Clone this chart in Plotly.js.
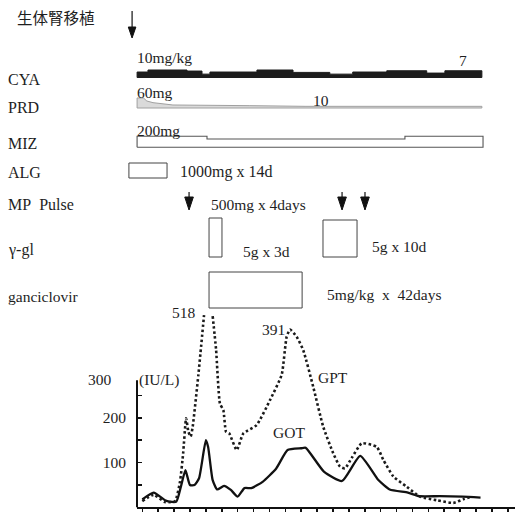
<!DOCTYPE html>
<html><head><meta charset="utf-8">
<script src="https://cdn.plot.ly/plotly-3.0.1.min.js"></script>
<style>html,body{margin:0;padding:0;background:#fff}</style>
</head><body><div id="chart" style="width:515px;height:512px"></div>
<script>
// ---------- data (days after transplantation) ----------
const gotDays   = [0, 5, 10, 12, 15, 17, 19, 21, 23, 25, 28, 29, 31, 33, 36, 39, 42, 45, 48, 53, 59, 64, 70, 72, 80, 88, 96, 104, 109, 117, 122, 131, 141, 149];
const gotValues = [18, 33, 16, 13, 13, 46, 83, 50, 50, 65, 150, 135, 61, 40, 48, 39, 24, 43, 43, 57, 87, 128, 132, 133, 80, 59, 115, 61, 40, 33, 25, 25, 24, 22];
const gptDays   = [0, 5, 10, 14.4, 16.6, 18, 19.3, 20.3, 21.3, 22.2, 24.7, 27.2, 29, 31, 32.5, 34.2, 35.7, 36.9, 38.3, 41.6, 44.5, 50.4, 56.3, 61.4, 63.6, 65.1, 68, 70.9, 75.3, 79.7, 84.1, 87.1, 89.3, 92.2, 96.7, 103.3, 106.2, 110.6, 116.5, 122.3, 129.7, 137, 141.4, 145.1];
const gptValues = [14, 28, 12, 14, 57, 121, 199, 169, 158, 180, 296, 429, null, 427, 352, 232, 217, 169, 165, 128, 165, 184, 240, 296, 381, 397, 381, 351, 269, 180, 121, 91, 87, 110, 143, 135, 106, 69, 46, 24, 16, 10, 18, 24];

const cyaDays = [-2.3, 2.5, 19.7, 26.3, 29.8, 50.5, 66.4, 82.6, 92.7, 107.7, 125.3, 133.3, 149.6]; // segment boundaries
const cyaDose = [7.3, 10, 8.6, 4.5, 7.3, 10, 6.8, 4.5, 7.3, 9, 5.9, 9];                         // mg/kg
const prdDays = [-2.3, 0.5, 2.0, 4.7, 13.5, 47.4, 71.7, 149.6];
const prdDose = [60, 60, 42, 32, 18, 14, 10, 10];                                               // mg
const mizDays = [-2.3, 28.5, 115.7, 150.1];
const mizDose = [200, 150, 200];                                                                // mg

const transplantDay = -4.5;
const algPeriod = [-5.9, 10.9];
const mpPulseDays = [20.6, 88, 98.1];
const gglPeriods = [[29.4, 35.1], [79.6, 94.6]];
const gcvPeriod = [29.4, 70.4];

// ---------- layout constants ----------
const W = 515, H = 512;
const DAY0_PX = 142.3, PX_PER_DAY = 2.27;
const AXIS_LEFT_PX = 137;
const Y0_PX = 507.4, PX_PER_UNIT = 0.448, LAB_TOP_PX = 300;
const FONT = 'Liberation Serif, Times New Roman, serif';
const TXT = '#1e1e1e';
const FS = 16;

const pxToDay = p => (p - DAY0_PX) / PX_PER_DAY;

// timeline rows (y2 axis = pixel rows)
const CYA_BASE = 77.5, CYA_SCALE = 0.75;
const PRD_BASE = 108, PRD_SCALE = 0.167;
const MIZ_BASE = 147.3, MIZ_SCALE = 0.055;

function stepPolygon(days, dose, base, scale) {
  const x = [days[0]], y = [base];
  for (let i = 0; i < dose.length; i++) {
    x.push(days[i], days[i + 1]);
    y.push(base - dose[i] * scale, base - dose[i] * scale);
  }
  x.push(days[days.length - 1], days[0]);
  y.push(base, base);
  return {x, y};
}
function linePolygon(days, dose, base, scale) {
  const x = [days[0]], y = [base];
  for (let i = 0; i < dose.length; i++) { x.push(days[i]); y.push(base - dose[i] * scale); }
  x.push(days[days.length - 1], days[0]);
  y.push(base, base);
  return {x, y};
}

const cya = stepPolygon(cyaDays, cyaDose, CYA_BASE, CYA_SCALE);
const prd = linePolygon(prdDays, prdDose, PRD_BASE, PRD_SCALE);
const miz = stepPolygon(mizDays, mizDose, MIZ_BASE, MIZ_SCALE);

const traces = [
  {x: cya.x, y: cya.y, xaxis: 'x', yaxis: 'y2', type: 'scatter', mode: 'lines', fill: 'toself',
   fillcolor: '#1c1c1c', line: {color: '#1c1c1c', width: 1}, hoverinfo: 'skip', showlegend: false},
  {x: prd.x, y: prd.y, xaxis: 'x', yaxis: 'y2', type: 'scatter', mode: 'lines', fill: 'toself',
   fillcolor: '#dadada', line: {color: '#a0a0a0', width: 1}, hoverinfo: 'skip', showlegend: false},
  {x: miz.x, y: miz.y, xaxis: 'x', yaxis: 'y2', type: 'scatter', mode: 'lines',
   line: {color: '#555', width: 1.1}, hoverinfo: 'skip', showlegend: false},
  {x: gotDays, y: gotValues, xaxis: 'x2', yaxis: 'y', type: 'scatter', mode: 'lines', name: 'GOT',
   line: {color: '#111', width: 2.3, shape: 'spline', smoothing: 0.5}, showlegend: false},
  {x: gptDays, y: gptValues, xaxis: 'x2', yaxis: 'y', type: 'scatter', mode: 'lines', name: 'GPT',
   line: {color: '#1a1a1a', width: 2.6, dash: '2.5px,2.5px', shape: 'spline', smoothing: 0.5},
   connectgaps: false, showlegend: false}
];

const box = (x0, x1, y0, y1) => ({type: 'rect', xref: 'x', yref: 'y2', x0, x1, y0, y1,
  line: {color: '#444', width: 1}, fillcolor: 'rgba(0,0,0,0)'});

// down arrow (stem + filled head) in timeline coordinates: x in days, y in row pixels
function downArrow(day, yTop, yHeadTop, yTip, halfWidthPx) {
  const hw = halfWidthPx / PX_PER_DAY;
  return [
    {type: 'line', xref: 'x', yref: 'y2', x0: day, x1: day, y0: yTop, y1: yHeadTop + 1,
     line: {color: '#111', width: 1.2}},
    {type: 'path', xref: 'x', yref: 'y2',
     path: `M ${day - hw},${yHeadTop} L ${day + hw},${yHeadTop} L ${day},${yTip} Z`,
     fillcolor: '#111', line: {color: '#111', width: 1}}
  ];
}

const shapes = [
  box(algPeriod[0], algPeriod[1], 163, 178),
  box(gglPeriods[0][0], gglPeriods[0][1], 218, 257),
  box(gglPeriods[1][0], gglPeriods[1][1], 220, 257),
  box(gcvPeriod[0], gcvPeriod[1], 272, 308),
  {type: 'line', xref: 'x2 domain', x0: 0, x1: 0, yref: 'y', y0: 0, y1: 284,
   line: {color: '#111', width: 2}},
  ...downArrow(transplantDay, 11, 27, 38, 3.8)
];
mpPulseDays.forEach(d => shapes.push(...downArrow(d, 192, 197, 210, 4.3)));

const px = p => p / W, py = p => 1 - p / H;
function txt(text, x, y, size, anchor) {
  return {text, x: px(x), y: py(y), xref: 'paper', yref: 'paper', xanchor: anchor || 'left',
    yanchor: 'middle', showarrow: false, font: {family: FONT, size: size || FS, color: TXT}};
}

const annotations = [
  {text: '生体腎移植', x: px(15), y: py(17), xref: 'paper', yref: 'paper', xanchor: 'left', yanchor: 'middle',
   showarrow: false, font: {family: 'Noto Sans CJK JP', size: 15.5, color: TXT}},
  txt('CYA', 6, 79), txt('PRD', 6, 107), txt('MIZ', 6, 143), txt('ALG', 6, 172),
  txt('MP\u00a0\u00a0Pulse', 6, 204), txt('γ-gl', 6, 250), txt('ganciclovir', 6, 296, 15.5),
  txt('10mg/kg', 135, 57, 15.5), txt('7', 457, 60, 15.5), txt('60mg', 135, 92, 15.5), txt('10', 311, 100, 15.5),
  txt('200mg', 135, 130, 15.5), txt('1000mg x 14d', 178, 172), txt('500mg x 4days', 209, 204, 15.5),
  txt('5g x 3d', 241, 251, 15.5), txt('5g x 10d', 370, 246, 15.5), txt('5mg/kg\u00a0\u00a0x\u00a0\u00a042days', 325, 294, 15.5),
  txt('518', 170, 312, 15.5), txt('391', 260, 329, 15.5), txt('GPT', 316, 377, 15.5), txt('GOT', 271, 432, 15.5),
  txt('300', 86, 379, 15.5), txt('(IU/L)', 137, 380, 15.5)
];

const layout = {
  width: W, height: H, margin: {l: 0, r: 0, t: 0, b: 0},
  paper_bgcolor: '#fff', plot_bgcolor: 'rgba(0,0,0,0)',
  showlegend: false,
  xaxis: {domain: [0, 1], range: [pxToDay(0), pxToDay(W)], visible: false, anchor: 'y2', fixedrange: true},
  yaxis2: {domain: [0, 1], range: [H, 0], visible: false, anchor: 'x', fixedrange: true},
  xaxis2: {domain: [AXIS_LEFT_PX / W, 1], range: [pxToDay(AXIS_LEFT_PX), pxToDay(W)], anchor: 'y',
    showline: true, linecolor: '#111', linewidth: 2, ticks: 'outside', ticklen: 7, tickwidth: 1.5,
    tickcolor: '#111', tick0: 0, dtick: 7, showticklabels: false, showgrid: false, zeroline: false},
  yaxis: {domain: [(H - Y0_PX) / H, (H - LAB_TOP_PX) / H], range: [0, (Y0_PX - LAB_TOP_PX) / PX_PER_UNIT],
    anchor: 'x2', showline: false, ticks: 'inside', ticklen: 5, tickwidth: 1.5, tickcolor: '#111',
    tickvals: [50, 100, 150, 200, 250], ticktext: ['', '100', '', '200', ''],
    tickfont: {family: FONT, size: 15.5, color: TXT}, ticklabelstandoff: 10,
    showgrid: false, zeroline: false},
  shapes, annotations
};

Plotly.newPlot('chart', traces, layout, {staticPlot: true, displayModeBar: false});
</script></body></html>
